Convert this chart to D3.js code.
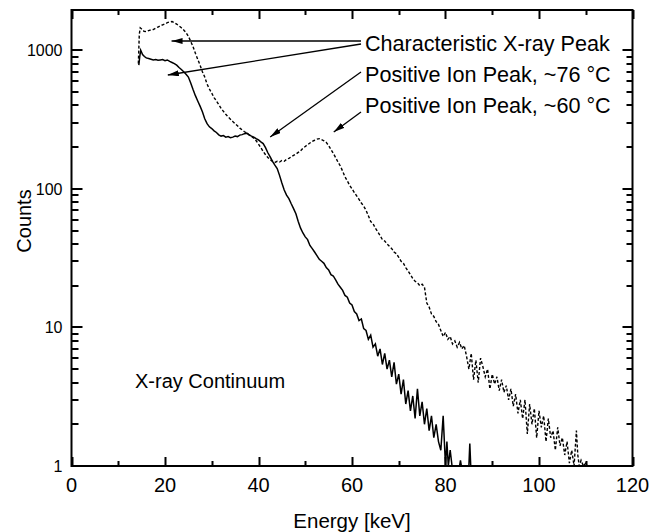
<!DOCTYPE html>
<html><head><meta charset="utf-8">
<script src="https://cdn.jsdelivr.net/npm/d3@7"></script>
<style>body{margin:0;background:#fff}svg{display:block}text{font-family:"Liberation Sans",Arial,sans-serif;fill:#000}</style>
</head><body><svg id="c" width="649" height="532"></svg>
<script>
// ~76 °C spectrum (solid)
const solidE = [14.4,14.6,14.8,15.2,15.6,16.0,16.5,17.0,17.5,18.0,18.5,19.0,19.5,20.0,20.5,21.0,21.5,22.0,22.5,23.0,23.5,24.0,24.5,25.0,25.5,26.0,26.5,27.0,27.5,28.0,28.5,29.0,29.5,30.0,30.5,31.0,31.5,32.0,32.5,33.0,33.5,34.0,34.5,35.0,35.5,36.0,36.5,37.0,37.5,38.0,38.5,39.0,39.5,40.0,40.5,41.0,41.5,42.0,42.5,43.0,43.5,44.0,44.5,45.0,45.5,46.0,46.5,47.0,47.5,48.0,48.5,49.0,49.5,50.0,50.5,51.0,51.5,52.0,52.5,53.0,53.5,54.0,54.5,55.0,55.5,56.0,56.5,57.0,57.5,58.0,58.5,59.0,59.5,60.0,60.5,61.0,61.5,62.0,62.5,63.0,63.5,64.0,64.5,65.0,65.5,66.0,66.5,67.0,67.5,68.0,68.5,69.0,69.5,70.0,70.5,71.0,71.5,72.0,72.5,73.0,73.5,74.0,74.5,75.0,75.5,76.0,76.5,77.0,77.5,78.0,78.5,79.0,79.5,80.0,80.3,80.6,81.0,81.4,83.0,83.2,83.4,85.0,85.2,85.4];
const solidC = [780,900,1000,930,900,880,870,860,850,855,845,850,855,840,850,830,815,800,780,750,725,700,670,640,580,520,470,430,395,360,320,295,280,272,262,255,245,240,242,236,238,234,236,240,238,244,246,250,252,245,240,236,230,225,218,212,198,182,170,158,148,140,125,110,98,90,85,78,72,66,58,52,48,45,43,39,37,35,33,31,30,29,27,26,24,23.5,22,20.5,19.5,18.5,17,16.5,15,14.5,13,12.5,11.2,11.5,9.8,9.5,8.2,8.8,7.2,7.6,6.2,7.0,5.4,6.5,5.0,5.8,4.4,5.6,3.9,4.6,3.3,4.2,2.8,3.5,2.5,3.2,2.2,3.6,2.3,2.9,2.0,2.6,1.8,2.3,1.6,2.0,1.5,1.3,2.3,1,1.5,1,1.3,1,1,1.1,1,1,1.45,1];
// ~60 °C spectrum (dashed)
const dashE = [14.3,14.5,14.7,15.0,15.5,16.0,16.5,17.0,17.5,18.0,18.5,19.0,19.5,20.0,20.5,21.0,21.5,22.0,22.5,23.0,23.5,24.0,24.5,25.0,25.5,26.0,26.5,27.0,27.5,28.0,28.5,29.0,29.5,30.0,30.5,31.0,31.5,32.0,32.5,33.0,33.5,34.0,34.5,35.0,35.5,36.0,36.5,37.0,37.5,38.0,38.5,39.0,39.5,40.0,40.5,41.0,41.5,42.0,42.5,43.0,43.5,44.0,44.5,45.0,45.5,46.0,46.5,47.0,47.5,48.0,48.5,49.0,49.5,50.0,50.5,51.0,51.5,52.0,52.5,53.0,53.5,54.0,54.5,55.0,55.5,56.0,56.5,57.0,57.5,58.0,58.5,59.0,59.5,60.0,60.5,61.0,61.5,62.0,62.5,63.0,63.5,64.0,64.5,65.0,65.5,66.0,66.5,67.0,67.5,68.0,68.5,69.0,69.5,70.0,70.5,71.0,71.5,72.0,72.5,73.0,73.5,74.0,74.5,75.0,75.5,76.0,76.5,77.0,77.5,78.0,78.5,79.0,79.5,80.0,80.5,81.0,81.5,82.0,82.5,83.0,83.5,84.0,84.5,85.0,85.5,86.0,86.5,87.0,87.5,88.0,88.5,89.0,89.5,90.0,90.5,91.0,91.5,92.0,92.5,93.0,93.5,94.0,94.5,95.0,95.5,96.0,96.5,97.0,97.5,98.0,98.5,99.0,99.5,100.0,100.5,101.0,101.5,102.0,102.5,103.0,103.5,104.0,104.5,105.0,105.5,106.0,106.5,107.0,107.5,108.0,108.3,108.6,109.0,109.5,110.0,110.5];
const dashC = [800,1300,1450,1420,1370,1360,1385,1400,1410,1440,1470,1500,1525,1550,1580,1600,1610,1580,1540,1500,1450,1400,1340,1260,1160,1060,950,860,780,700,640,570,525,490,455,430,405,380,362,345,330,318,306,295,285,274,266,258,252,245,238,232,222,210,198,186,176,168,162,158,155,158,156,160,158,163,166,170,174,178,183,188,196,202,208,214,220,224,228,230,226,222,216,205,192,180,168,156,146,134,122,114,106,100,94,89,84,79,75,70,64,58,56,52,49,46,43,42,40,38.5,37,35,34,32,30,29,27,25.5,24,22.5,21.5,21,20,20.5,19.5,15,14,12.5,12,11,10.5,9.5,8.6,9.2,8.2,8.6,7.6,8.0,7.2,7.8,7.0,7.4,6.2,5.0,6.5,4.2,5.8,4.0,6.0,5.2,4.4,5.0,3.6,4.6,3.9,4.4,3.5,4.2,3.4,3.8,3.0,3.6,2.7,3.3,2.4,3.0,2.2,3.0,1.7,2.8,2.0,2.6,1.6,2.5,1.9,2.3,1.5,2.2,1.6,1.8,1.3,1.9,1.4,1.6,1.2,1.5,1.05,1.3,1,1.8,1.2,1,1.1,1,1.05,1];
const xMajor = [0,20,40,60,80,100,120];
const xMinor = [10,30,50,70,90,110];
const yMajor = [1,10,100,1000];
const yLabels = ["1","10","100","1000"];
const notes = ["Characteristic X-ray Peak","Positive Ion Peak, ~76 \u00B0C","Positive Ion Peak, ~60 \u00B0C"];

const svg = d3.select("#c");
const L=71.5,R=632.5,T=10,B=466;
const x = d3.scaleLinear().domain([0,120]).range([L,R]);
const y = d3.scaleLog().domain([1,1950]).range([B,T]).clamp(true);

svg.append("clipPath").attr("id","pc").append("rect").attr("x",L).attr("y",T).attr("width",R-L).attr("height",B-T);
const line = d3.line().x(d=>x(d[0])).y(d=>y(Math.max(1,d[1])));
const g = svg.append("g").attr("clip-path","url(#pc)");
g.append("path").datum(dashE.map((e,i)=>[e,dashC[i]])).attr("d",line).attr("fill","none").attr("stroke","#000").attr("stroke-width",1.4).attr("stroke-dasharray","3,2");
g.append("path").datum(solidE.map((e,i)=>[e,solidC[i]])).attr("d",line).attr("fill","none").attr("stroke","#000").attr("stroke-width",1.5);

const yMinorVals=[];
for (let d=1; d<=1000; d*=10) for (let k=2;k<=9;k++) if (d*k<1950) yMinorVals.push(d*k);

const p = d3.path();
function vt(vals,len){ vals.forEach(v=>{ const xx=Math.round(x(v))+0.5;
  p.moveTo(xx,B); p.lineTo(xx,B-len); p.moveTo(xx,T); p.lineTo(xx,T+len); });}
function ht(vals,lenL,lenR){ vals.forEach(v=>{ const yy=Math.round(y(v));
  p.moveTo(L,yy); p.lineTo(L+lenL,yy); p.moveTo(R,yy); p.lineTo(R-lenR,yy); });}
vt(xMajor,9); vt(xMinor,5);
ht(yMajor,11,10); ht(yMinorVals,7,6);
svg.append("path").attr("d",p.toString()).attr("fill","none").attr("stroke","#000").attr("stroke-width",2);

svg.append("g").selectAll("text").data(xMajor).join("text")
  .attr("x",d=>x(d)).attr("y",B+26).attr("text-anchor","middle").attr("font-size",20).text(d=>d);
svg.append("g").selectAll("text").data(yMajor).join("text")
  .attr("x",L-9).attr("y",d=>y(d)).attr("dy","0.36em").attr("text-anchor","end").attr("font-size",16).text((d,i)=>yLabels[i]);

svg.append("rect").attr("x",L).attr("y",T).attr("width",R-L).attr("height",B-T).attr("fill","none").attr("stroke","#000").attr("stroke-width",2);

svg.append("text").attr("x",(L+R)/2).attr("y",528).attr("text-anchor","middle").attr("font-size",20.5).text("Energy [keV]");
svg.append("text").attr("transform","translate(31,221) rotate(-90)").attr("text-anchor","middle").attr("font-size",20).text("Counts");

svg.append("text").attr("x",135).attr("y",388).attr("font-size",20).text("X-ray Continuum");
notes.forEach((t,i)=>svg.append("text").attr("x",365).attr("y",51+i*31).attr("font-size",21.6).text(t));

svg.append("defs").append("marker").attr("id","ah").attr("viewBox","0 0 11 6").attr("refX",11).attr("refY",3)
  .attr("markerWidth",11).attr("markerHeight",6).attr("markerUnits","userSpaceOnUse").attr("orient","auto")
  .append("path").attr("d","M0,0 L11,3 L0,6 Z").attr("fill","#000");
const arrows = [
  [361,41,x(21.4),41],
  [361,44,x(20.6),75],
  [361,72,x(42.5),137],
  [361,112,x(56.1),132]
];
arrows.forEach(a=>svg.append("line").attr("x1",a[0]).attr("y1",a[1]).attr("x2",a[2]).attr("y2",a[3])
  .attr("stroke","#000").attr("stroke-width",1.3).attr("marker-end","url(#ah)"));
</script></body></html>
